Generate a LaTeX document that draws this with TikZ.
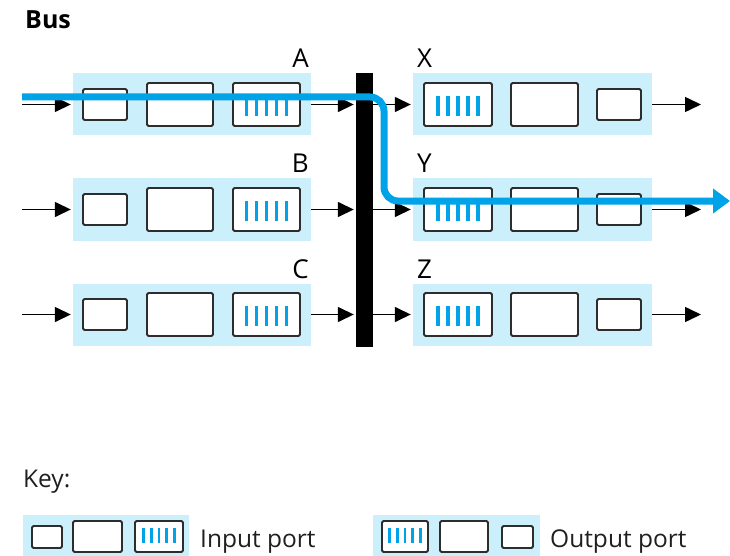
\documentclass[tikz,border=0pt]{standalone}
\usepackage{fontspec}
\setmainfont{Open Sans}
\usetikzlibrary{arrows.meta}

\definecolor{portfill}{RGB}{204,239,252}
\definecolor{flowblue}{RGB}{0,162,232}
\definecolor{boxline}{RGB}{45,45,45}

\tikzset{
  portbg/.style={fill=portfill, draw=none, inner sep=0pt, minimum height=62pt},
  procbox/.style={draw=boxline, line width=1.8pt, fill=white, rounded corners=1.5pt, inner sep=0pt},
  smallbox/.style={procbox, minimum width=44pt, minimum height=31pt},
  bigbox/.style={procbox, minimum width=67pt, minimum height=43pt},
  qbar/.style={draw=flowblue, line width=3.8pt},
  keybar/.style={draw=flowblue, line width=2.8pt},
  link/.style={draw=black, line width=1.5pt, shorten >=2pt, -{Triangle[length=16pt,width=15pt]}},
  portname/.style={font=\fontsize{26}{30}\selectfont, inner sep=0pt, text=black},
  keytext/.style={font=\fontsize{24.5}{29}\selectfont, inner sep=0pt, text=black!88},
  flow/.style={draw=flowblue, line width=7pt, rounded corners=14pt, -{Triangle[length=17pt,width=24pt]}},
}

\begin{document}
\begin{tikzpicture}[x=1pt, y=-1pt]
\useasboundingbox (0,0) rectangle (730,556);

% title
\node[font=\fontsize{25}{30}\selectfont\bfseries, inner sep=0pt, anchor=base west] (title) at (25,29) {Bus};

% the shared bus
\node[fill=black, inner sep=0pt, minimum width=17pt, minimum height=274pt] (bus) at (364.5,210) {};

% input ports (left) and output ports (right)
\foreach \i/\o/\c in {A/X/104.5, B/Y/209.5, C/Z/314.5} {
  % input port \i
  \node[portbg, minimum width=238pt] (in\i) at (192,\c) {};
  \node[smallbox] (in\i-s) at (105,\c) {};
  \node[bigbox, minimum width=66pt] (in\i-m) at (180,\c) {};
  \node[bigbox] (in\i-q) at (266.5,\c) {};
  \foreach \dx in {-20,-10,0,10,20}
    \draw[qbar] ([shift={(\dx,-8.5)}]in\i-q.center) -- ++(0,20);
  \node[portname, anchor=base east] (lab\i) at (309,\c-36.5) {\i};

  % output port \o
  \node[portbg, minimum width=239pt] (out\o) at (532.5,\c) {};
  \node[bigbox, minimum width=68pt] (out\o-q) at (458,\c) {};
  \node[bigbox] (out\o-m) at (544.5,\c) {};
  \node[smallbox] (out\o-s) at (619,\c) {};
  \foreach \dx in {-20,-10,0,10,20}
    \draw[qbar] ([shift={(\dx,-8.5)}]out\o-q.center) -- ++(0,20);
  \node[portname, anchor=base west] (lab\o) at (417,\c-36.5) {\o};

  % line arrows
  \coordinate (src\i) at (22,\c);
  \coordinate (dst\o) at (703,\c);
  \draw[link] (src\i) -- (in\i.west);
  \draw[link] (in\i.east) -- (in\i.east -| bus.west);
  \draw[link] (bus.east |- out\o.west) -- (out\o.west);
  \draw[link] (out\o.east) -- (dst\o);
}

% packet path from A across the bus to Y
\coordinate (flowstart) at (22,97);
\coordinate (flowturn) at (384,201);
\coordinate (flowend) at (730,201);
\draw[flow] (flowstart) -| (flowturn) -- (flowend);

% key
\node[keytext, anchor=base west] (keyhead) at (23,487) {Key:};

\node[fill=portfill, inner sep=0pt, minimum width=166pt, minimum height=41pt] (keyin) at (106,535.5) {};
\node[procbox, minimum width=30pt, minimum height=22pt] (keyin-s) at (47,537) {};
\node[procbox, minimum width=49pt, minimum height=31pt] (keyin-m) at (97.5,536.5) {};
\node[procbox, minimum width=48pt, minimum height=31pt] (keyin-q) at (159,536.5) {};
\foreach \dx in {-15.5,-7.75,0,7.75,15.5}
  \draw[keybar] ([shift={(\dx,-8.5)}]keyin-q.center) -- ++(0,15);
\node[keytext, anchor=base west] (keyintext) at (200,547) {Input port};

\node[fill=portfill, inner sep=0pt, minimum width=167pt, minimum height=41pt] (keyout) at (456.5,535.5) {};
\node[procbox, minimum width=46pt, minimum height=31pt] (keyout-q) at (405,536.5) {};
\node[procbox, minimum width=48pt, minimum height=31pt] (keyout-m) at (464,536.5) {};
\node[procbox, minimum width=31pt, minimum height=22pt] (keyout-s) at (517.5,537) {};
\foreach \dx in {-15.5,-7.75,0,7.75,15.5}
  \draw[keybar] ([shift={(\dx,-8.5)}]keyout-q.center) -- ++(0,15);
\node[keytext, anchor=base west] (keyouttext) at (550,547) {Output port};
\end{tikzpicture}
\end{document}
